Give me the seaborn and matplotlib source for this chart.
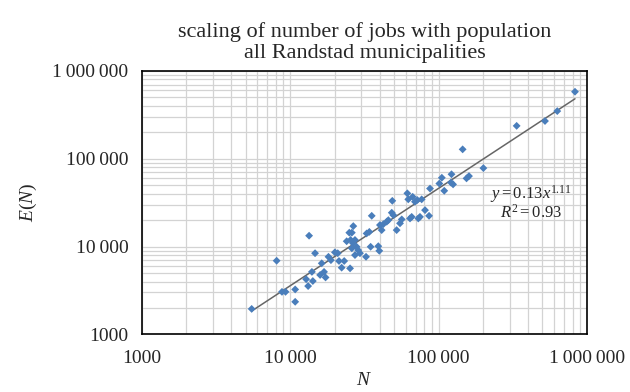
import numpy as np
import pandas as pd
import matplotlib
matplotlib.use("Agg")
import matplotlib.pyplot as plt
import matplotlib.ticker as mticker
import seaborn as sns

# municipality population (N) and number of jobs E(N)
population = [
    5500, 8100, 8800, 9300, 10800, 10800, 13400, 14700, 12800, 13200,
    14000, 14200, 15900, 16300, 16900, 17300, 18100, 18800, 20000, 20900,
    21300, 23100, 22200, 25300, 24000, 25000, 26000, 26600, 25500, 26500,
    27300, 26000, 28000, 28700, 29500, 27300, 32400, 32700, 34100, 35400,
    34800, 39200, 39800, 41300, 40200, 42400, 44700, 45800, 48300, 49500,
    48700, 52100, 54900, 56400, 61500, 66800, 62400, 69200, 71800, 76800,
    64100, 65800, 72900, 74800, 80900, 86100, 87400, 101000, 105000, 109000,
    122000, 121000, 125000, 145000, 154000, 160000, 200000, 335000, 520000,
    629000, 828000,
]
jobs = [
    1950, 6900, 3050, 3050, 2350, 3250, 13300, 8400, 4250, 3550,
    5150, 4050, 4750, 6450, 5150, 4450, 7650, 7000, 8600, 8400,
    6850, 6850, 5750, 5650, 11500, 14400, 14400, 17100, 11900, 10900,
    11900, 9550, 9950, 9100, 8400, 8000, 7650, 14100, 14700, 22400,
    9950, 10100, 8950, 15400, 17600, 18000, 19200, 20000, 24300, 22800,
    33200, 15400, 18400, 20400, 40400, 36900, 34500, 32400, 33900, 34500,
    20900, 21800, 20900, 21800, 26000, 22400, 45800, 52200, 60800, 43200,
    66600, 53600, 51100, 128000, 59800, 63500, 78300, 237000, 269000,
    349000, 580000,
]

# power-law fit reported on the chart
fit_coef = 0.13
fit_exp = 1.11
fit_r2 = 0.93

tick_values = [1000, 10000, 100000, 1000000]
tick_labels = ["1000", "10\u2009000", "100\u2009000", "1\u2009000\u2009000"]

df = pd.DataFrame({"N": population, "E": jobs})
fit_x = np.array([min(population), max(population)])
fit_df = pd.DataFrame({"N": fit_x, "E": fit_coef * fit_x ** fit_exp})

sns.set_style("white")
plt.rcParams["font.family"] = ["Liberation Serif", "DejaVu Serif"]
plt.rcParams["mathtext.fontset"] = "custom"
plt.rcParams["mathtext.rm"] = "Liberation Serif"
plt.rcParams["mathtext.it"] = "Liberation Serif:italic"

fig = plt.figure(figsize=(6.3, 3.92), dpi=100)
ax = fig.add_axes([0.225, 0.147, 0.707, 0.672])

ax.set_xscale("log")
ax.set_yscale("log")
ax.set_xlim(1000, 1000000)
ax.set_ylim(1000, 1000000)

ax.xaxis.set_minor_locator(mticker.LogLocator(base=10, subs=np.arange(2, 10)))
ax.yaxis.set_minor_locator(mticker.LogLocator(base=10, subs=np.arange(2, 10)))
ax.grid(True, which="both", color="#d3d3d3", linewidth=0.9)
ax.set_axisbelow(True)

sns.lineplot(data=fit_df, x="N", y="E", ax=ax, color="#666666",
             linewidth=1.1, zorder=2)
sns.scatterplot(data=df, x="N", y="E", ax=ax, marker="D", s=16,
                color="#4a7ebb", edgecolor="none", zorder=3)

ax.set_xticks(tick_values)
ax.set_xticklabels(tick_labels)
ax.set_yticks(tick_values)
ax.set_yticklabels(tick_labels)
ax.xaxis.set_minor_formatter(mticker.NullFormatter())
ax.yaxis.set_minor_formatter(mticker.NullFormatter())
ax.tick_params(which="both", length=0, labelsize=14)
ax.tick_params(axis="y", pad=9.5)
ax.tick_params(axis="x", pad=11)

for sp in ax.spines.values():
    sp.set_color("black")
    sp.set_linewidth(1.2)

ax.set_xlabel("$N$", fontsize=14, labelpad=4)
ax.set_ylabel("$E(N)$", fontsize=14, labelpad=10)
ax.set_title("scaling of number of jobs with population\nall Randstad municipalities",
             fontsize=16, linespacing=1.2, pad=9)

ax.text(0.874, 0.533, "$y = %.2fx^{%.2f}$" % (fit_coef, fit_exp),
        transform=ax.transAxes, ha="center", va="center", fontsize=12)
ax.text(0.874, 0.462, "$R^2 = %.2f$" % fit_r2,
        transform=ax.transAxes, ha="center", va="center", fontsize=12)

fig.savefig("out.png", dpi=100)
